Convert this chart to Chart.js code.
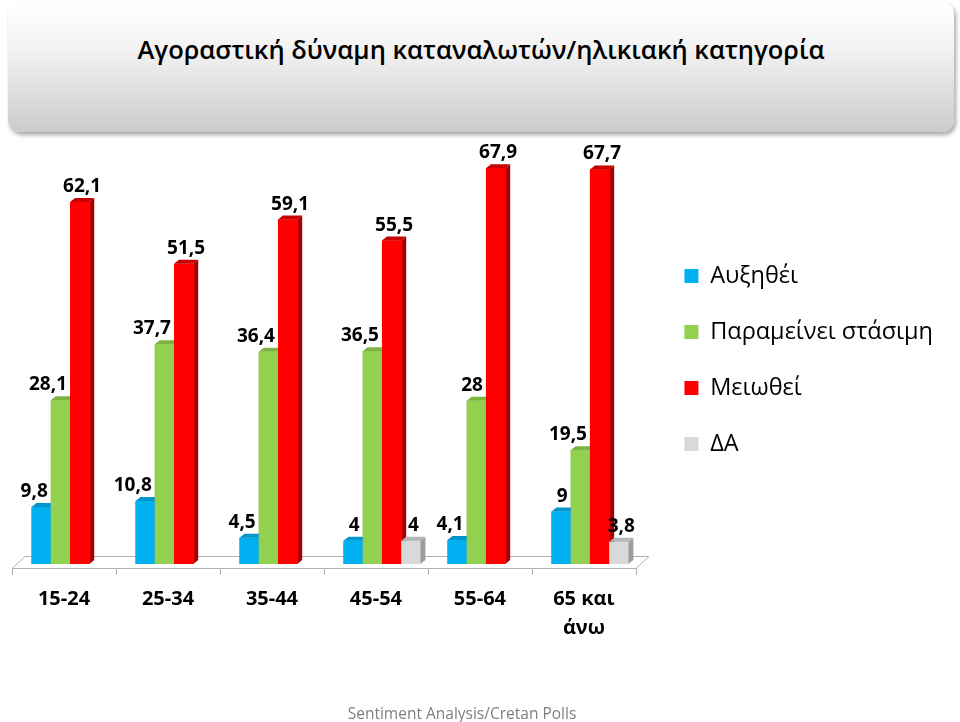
<!DOCTYPE html>
<html>
<head>
<meta charset="utf-8">
<script src="https://cdn.jsdelivr.net/npm/chart.js@4.4.1/dist/chart.umd.min.js"></script>
<style>
  body { margin: 0; background: #fff; }
  #page { position: relative; width: 960px; height: 722px; overflow: hidden; font-family: 'Open Sans', sans-serif; }
  #titlebox { position: absolute; left: 8px; top: 2px; width: 946px; height: 130px; border-radius: 12px;
    background: linear-gradient(#ffffff 0%, #f3f3f3 35%, #cbcbcb 100%); box-shadow: 2px 3px 4px rgba(0,0,0,.35); }
  #titlebox span { position: absolute; left: 0; right: 0; top: 30px; text-align: center; font-size: 25.5px; font-weight: 600; color: #000; }
  #wrap { position: absolute; left: 0; top: 0; width: 960px; height: 722px; }
  #footer { position: absolute; left: 0; width: 924px; top: 702px; text-align: center; font-size: 15.5px; color: #7f7f7f; }
</style>
</head>
<body>
<div id="page">
  <div id="titlebox"><span>Αγοραστική δύναμη καταναλωτών/ηλικιακή κατηγορία</span></div>
  <div id="wrap"><canvas id="myChart"></canvas></div>
  <div id="footer">Sentiment Analysis/Cretan Polls</div>
</div>
<script>
// data
const ageGroups = ['15-24', '25-34', '35-44', '45-54', '55-64', ['65 και', 'άνω']];
const increased = [9.8, 10.8, 4.5, 4, 4.1, 9];
const unchanged = [28.1, 37.7, 36.4, 36.5, 28, 19.5];
const decreased = [62.1, 51.5, 59.1, 55.5, 67.9, 67.7];
const noAnswer = [null, null, null, 4, null, 3.8];
const seriesNames = ['Αυξηθέι', 'Παραμείνει στάσιμη', 'Μειωθεί', 'ΔΑ'];

const FONT = "'Open Sans', sans-serif";
const DX = 5, DY = 4, SHIFT = 6;
const sideCol = ['#0084B4', '#6E9F38', '#A80000', '#9E9E9E'];
const topCol = ['#0096CC', '#7CB341', '#C80000', '#B5B5B5'];

function fmt(v) { return String(v).replace('.', ','); }

// floor, tick marks and fake 3d faces
const floorPlugin = {
  id: 'floor',
  afterLayout(chart) {
    // push the legend a bit further from the plot
    chart.legend.left += 16;
    chart.legend.right += 16;
  },
  beforeDatasetsDraw(chart) {
    const ctx = chart.ctx;
    const a = chart.chartArea;
    const n = ageGroups.length;
    ctx.save();
    ctx.strokeStyle = '#b0b0b0';
    ctx.lineWidth = 1;
    ctx.fillStyle = '#ffffff';
    ctx.beginPath();
    ctx.moveTo(a.left, a.bottom + 4.5);
    ctx.lineTo(a.right, a.bottom + 4.5);
    ctx.lineTo(a.right + 13, a.bottom - 7.5);
    ctx.lineTo(a.left + 13, a.bottom - 7.5);
    ctx.closePath();
    ctx.fill();
    ctx.stroke();
    for (let i = 0; i <= n; i++) {
      const x = Math.round(a.left + i * (a.right - a.left) / n) + 0.5;
      ctx.beginPath();
      ctx.moveTo(x, a.bottom + 4);
      ctx.lineTo(x, a.bottom + 11);
      ctx.stroke();
    }
    ctx.restore();
    ctx.save();
    ctx.translate(SHIFT, 0);
  },
  afterDatasetsDraw(chart) {
    const ctx = chart.ctx;
    const sets = chart.data.datasets;
    for (let j = 0; j < ageGroups.length; j++) {
      for (let d = 0; d < sets.length; d++) {
        const v = sets[d].data[j];
        if (v === null) continue;
        const bar = chart.getDatasetMeta(d).data[j];
        const l = bar.x - bar.width / 2, r = bar.x + bar.width / 2;
        ctx.fillStyle = sets[d].backgroundColor;
        ctx.fillRect(l, bar.y, bar.width, bar.base - bar.y);
        ctx.fillStyle = sideCol[d];
        ctx.beginPath();
        ctx.moveTo(r, bar.y);
        ctx.lineTo(r + DX, bar.y - DY);
        ctx.lineTo(r + DX, bar.base - DY);
        ctx.lineTo(r, bar.base);
        ctx.closePath();
        ctx.fill();
        ctx.fillStyle = topCol[d];
        ctx.beginPath();
        ctx.moveTo(l, bar.y);
        ctx.lineTo(l + DX, bar.y - DY);
        ctx.lineTo(r + DX, bar.y - DY);
        ctx.lineTo(r, bar.y);
        ctx.closePath();
        ctx.fill();
      }
    }
    // value labels
    ctx.font = 'bold 19px ' + FONT;
    ctx.fillStyle = '#000';
    ctx.textAlign = 'center';
    ctx.textBaseline = 'alphabetic';
    for (let j = 0; j < ageGroups.length; j++) {
      for (let d = 0; d < sets.length; d++) {
        const v = sets[d].data[j];
        if (v === null) continue;
        const bar = chart.getDatasetMeta(d).data[j];
        const txt = fmt(v);
        const w = ctx.measureText(txt).width;
        let cx = bar.x + DX / 2;
        const nv = d + 1 < sets.length ? sets[d + 1].data[j] : null;
        if (nv !== null && nv > v) {
          const nb = chart.getDatasetMeta(d + 1).data[j];
          const limit = nb.x - nb.width / 2 - 3;
          if (cx + w / 2 > limit) cx = limit - w / 2;
        }
        ctx.fillText(txt, cx, bar.y - DY - 6);
      }
    }
    ctx.restore();
  }
};

const ctx1 = document.getElementById('myChart');
new Chart(ctx1, {
  type: 'bar',
  data: {
    labels: ageGroups,
    datasets: [
      { label: seriesNames[0], data: increased, backgroundColor: '#00B0F0' },
      { label: seriesNames[1], data: unchanged, backgroundColor: '#92D050' },
      { label: seriesNames[2], data: decreased, backgroundColor: '#FF0000' },
      { label: seriesNames[3], data: noAnswer, backgroundColor: '#D9D9D9' }
    ]
  },
  options: {
    responsive: true,
    maintainAspectRatio: false,
    animation: false,
    categoryPercentage: 0.74,
    barPercentage: 1.0,
    layout: { padding: { top: 156, left: 12, right: 33, bottom: 66 } },
    plugins: {
      tooltip: { enabled: false },
      legend: {
        position: 'right',
        fullSize: false,
        labels: {
          boxWidth: 14,
          boxHeight: 14,
          padding: 32.5,
          color: '#000',
          font: { family: FONT, size: 23.5 }
        }
      }
    },
    scales: {
      x: {
        grid: { display: false, drawTicks: true, tickLength: 8 },
        border: { display: false },
        ticks: { color: '#000', padding: 13, font: { family: FONT, size: 20, weight: 'bold', lineHeight: 1.45 } }
      },
      y: {
        display: false,
        min: 0,
        max: 70
      }
    }
  },
  plugins: [floorPlugin]
});
</script>
</body>
</html>
